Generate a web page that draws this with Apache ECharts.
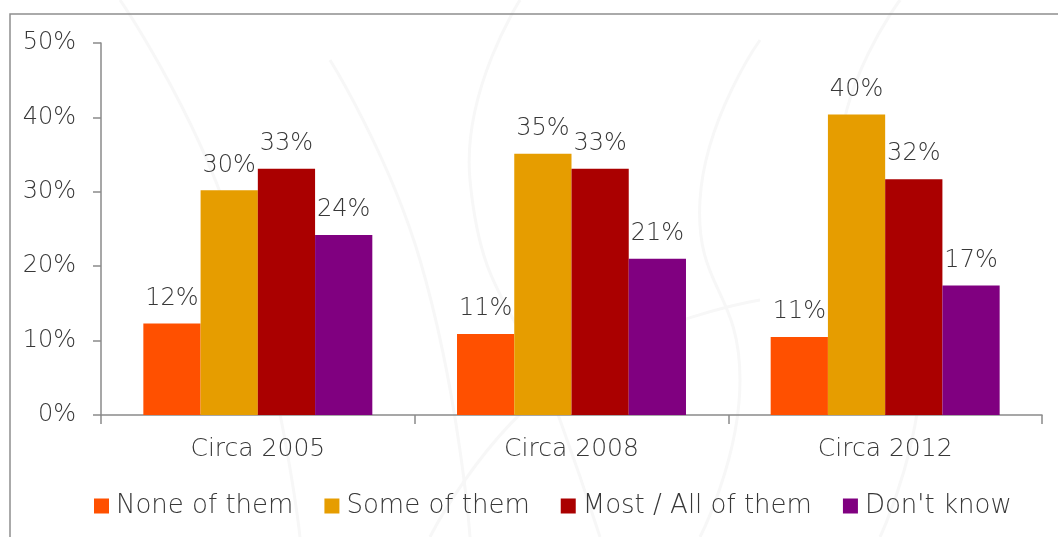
<!DOCTYPE html>
<html>
<head>
<meta charset="utf-8">
<script src="https://cdn.jsdelivr.net/npm/echarts@6/dist/echarts.min.js"></script>
<style>
  html, body { margin: 0; padding: 0; background: #ffffff; }
  #chart { width: 1058px; height: 537px; }
</style>
</head>
<body>
<div id="chart"></div>
<script>
// Periods on the category axis
const categories = ['Circa 2005', 'Circa 2008', 'Circa 2012'];

// Share of respondents per answer, in percent
const noneOfThem = [12.3, 10.9, 10.5];
const someOfThem = [30.2, 35.1, 40.4];
const mostAllOfThem = [33.1, 33.1, 31.7];
const dontKnow = [24.2, 21.0, 17.4];

const seriesNames = ['None of them', 'Some of them', 'Most / All of them', "Don't know"];
const seriesColors = ['#FF5000', '#E69D00', '#AA0000', '#800080'];

// Value axis ticks
const yMin = 0;
const yMax = 50;
const yStep = 10;

const FONT = 'DejaVu Sans';
const TEXT = '#383838';
const AXIS = '#8a8a8a';

const chart = echarts.init(document.getElementById('chart'), null, { renderer: 'canvas' });

function barSeries(name, values, color) {
  return {
    name: name,
    type: 'bar',
    data: values,
    barGap: '0%',
    barCategoryGap: '27%',
    itemStyle: { color: color },
    label: {
      show: true,
      position: 'top',
      distance: 13,
      color: TEXT,
      fontFamily: FONT,
      fontWeight: 200,
      fontSize: 24,
      formatter: p => Math.round(p.value) + '%'
    }
  };
}

// Faint decorative strokes in the backdrop
const backdrop = [
  [[120, 0], [230, 220], [300, 537]],
  [[330, 60], [420, 260], [470, 537]],
  [[520, 0], [470, 180], [560, 420], [600, 537]],
  [[760, 40], [700, 200], [740, 380], [700, 537]],
  [[900, 0], [840, 170], [920, 330], [880, 537]],
  [[430, 537], [560, 380], [760, 300]]
].map(points => ({
  type: 'polyline',
  shape: { points: points, smooth: 0.5 },
  style: { stroke: '#f7f7f7', lineWidth: 3, fill: 'none' },
  silent: true,
  z: -2
}));

chart.setOption({
  backgroundColor: '#ffffff',
  animation: false,
  textStyle: { fontFamily: FONT },
  graphic: backdrop.concat([{
    type: 'rect',
    shape: { x: 10, y: 14, width: 1200, height: 700 },
    style: { fill: 'none', stroke: '#8f8f8f', lineWidth: 1.5 },
    silent: true,
    z: -1
  }]),
  grid: { left: 101, right: 16, top: 43, bottom: 122, containLabel: false },
  legend: {
    left: 94,
    top: 493,
    padding: 0,
    itemWidth: 15,
    itemHeight: 15,
    itemGap: 31,
    icon: 'rect',
    textStyle: { color: TEXT, fontFamily: FONT, fontWeight: 200, fontSize: 26, padding: [0, 0, 0, 2] },
    data: seriesNames
  },
  xAxis: {
    type: 'category',
    data: categories,
    axisLine: { lineStyle: { color: AXIS, width: 1.5 } },
    axisTick: { show: true, length: 9, alignWithLabel: false, lineStyle: { color: AXIS, width: 1.5 } },
    axisLabel: { color: TEXT, fontFamily: FONT, fontWeight: 200, fontSize: 25, margin: 22 },
    splitLine: { show: false }
  },
  yAxis: {
    type: 'value',
    min: yMin,
    max: yMax,
    interval: yStep,
    axisLine: { show: true, lineStyle: { color: AXIS, width: 1.5 } },
    axisTick: { show: true, length: 8, lineStyle: { color: AXIS, width: 1.5 } },
    axisLabel: { color: TEXT, fontFamily: FONT, fontWeight: 200, fontSize: 24, margin: 25, formatter: '{value}%' },
    splitLine: { show: false }
  },
  series: [
    barSeries(seriesNames[0], noneOfThem, seriesColors[0]),
    barSeries(seriesNames[1], someOfThem, seriesColors[1]),
    barSeries(seriesNames[2], mostAllOfThem, seriesColors[2]),
    barSeries(seriesNames[3], dontKnow, seriesColors[3])
  ]
});
</script>
</body>
</html>
